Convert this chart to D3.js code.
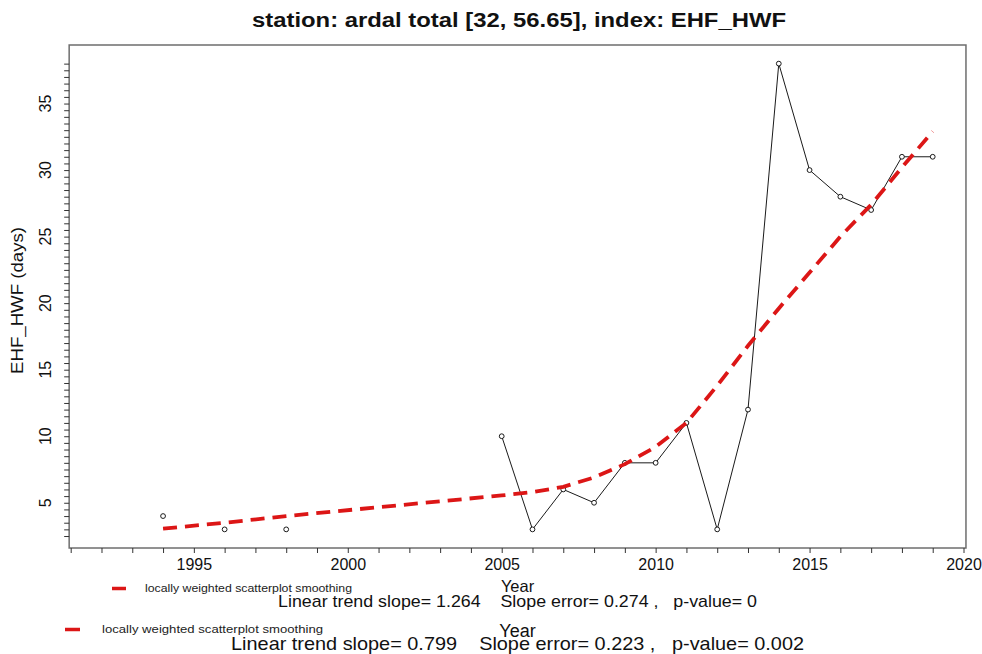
<!DOCTYPE html>
<html>
<head>
<meta charset="utf-8">
<script src="https://cdn.jsdelivr.net/npm/d3@7"></script>
<style>
  body { margin: 0; background: #fff; }
  svg text { font-family: "Liberation Sans", Arial, sans-serif; white-space: pre; }
</style>
</head>
<body>
<svg id="chart" width="982" height="654"></svg>
<script>
// observed series (null = year missing)
const years  = [1994, 1995, 1996, 1997, 1998, 1999, 2000, 2001, 2002, 2003, 2004,
                2005, 2006, 2007, 2008, 2009, 2010, 2011, 2012, 2013, 2014, 2015,
                2016, 2017, 2018, 2019];
const values = [4, null, 3, null, 3, null, null, null, null, null, null,
                10, 3, 6, 5, 8, 8, 11, 3, 12, 38, 30,
                28, 27, 31, 31];

// lowess fit, evaluated at the observed years
const loessYears  = [1994, 1996, 1998, 2005, 2006, 2007, 2008, 2009, 2010, 2011,
                     2012, 2013, 2014, 2015, 2016, 2017, 2018, 2019];
const loessValues = [3.05, 3.5, 4.0, 5.55, 5.8, 6.2, 6.9, 7.9, 9.2, 11.0,
                     13.8, 16.8, 19.6, 22.3, 25.0, 27.4, 30.2, 32.9];

const xTicks  = d3.range(1991, 2021);
const xLabels = [1995, 2000, 2005, 2010, 2015, 2020];
const yTicks  = d3.range(2.5, 38.01, 0.5);
const yLabels = [5, 10, 15, 20, 25, 30, 35];

const title = 'station: ardal total [32, 56.65], index: EHF_HWF';
const legendLabels = ['locally weighted scatterplot smoothing', 'locally weighted scatterplot smoothing'];
const trendLines = [
    'Linear trend slope= 1.264    Slope error= 0.274 ,   p-value= 0',
    'Linear trend slope= 0.799    Slope error= 0.223 ,   p-value= 0.002'
];

const red = '#dc1616';
const svg = d3.select('#chart');

const x = d3.scaleLinear().domain([1991, 2020]).range([70.7, 963.5]);
const y = d3.scaleLinear().domain([1.6, 39.4]).range([548, 45]);
const xMid = (x(1990.95) + x(2020.08)) / 2;

// plot frame
svg.append('rect')
    .attr('x', x(1990.95))
    .attr('y', y(39.4))
    .attr('width', x(2020.08) - x(1990.95))
    .attr('height', y(1.6) - y(39.4))
    .style('fill', 'none')
    .style('stroke', '#6e6e6e')
    .style('stroke-width', 1.5);

// x axis
const xAxis = svg.append('g')
    .attr('transform', `translate(0, ${y(1.6)})`)
    .call(d3.axisBottom(x)
        .tickValues(xTicks)
        .tickSize(5)
        .tickPadding(6)
        .tickFormat(d => xLabels.includes(d) ? d : ''));
xAxis.select('.domain').remove();
xAxis.selectAll('line').style('stroke', '#333');
xAxis.selectAll('text')
    .style('font-size', '16px')
    .style('fill', '#111');

// y axis
const yAxis = svg.append('g')
    .attr('transform', `translate(${x(1990.95)}, 0)`)
    .call(d3.axisLeft(y)
        .tickValues(yTicks)
        .tickSize(5)
        .tickFormat(''));
yAxis.select('.domain').remove();
yAxis.selectAll('line').style('stroke', '#333');

svg.append('g')
    .selectAll('text')
    .data(yLabels)
    .enter()
    .append('text')
        .attr('transform', d => `translate(51, ${y(d)}) rotate(-90)`)
        .attr('text-anchor', 'middle')
        .style('font-size', '16px')
        .style('fill', '#111')
        .text(d => d);

svg.append('text')
    .attr('transform', `translate(23, ${y(20.2)}) rotate(-90)`)
    .attr('text-anchor', 'middle')
    .attr('textLength', 147)
    .attr('lengthAdjust', 'spacingAndGlyphs')
    .style('font-size', '16px')
    .style('fill', '#111')
    .text('EHF_HWF (days)');

// title
svg.append('text')
    .attr('x', 519)
    .attr('y', 27)
    .attr('text-anchor', 'middle')
    .attr('textLength', 534)
    .attr('lengthAdjust', 'spacingAndGlyphs')
    .style('font-size', '19.5px')
    .style('font-weight', 'bold')
    .style('fill', '#111')
    .text(title);

// observed line + points
const pts = years.map((yr, i) => ({year: yr, value: values[i]}));

svg.append('path')
    .datum(pts)
    .attr('d', d3.line()
        .defined(d => d.value !== null)
        .x(d => x(d.year))
        .y(d => y(d.value)))
    .style('fill', 'none')
    .style('stroke', '#1a1a1a')
    .style('stroke-width', 1);

svg.append('g')
    .selectAll('circle')
    .data(pts.filter(d => d.value !== null))
    .enter()
    .append('circle')
        .attr('cx', d => x(d.year))
        .attr('cy', d => y(d.value))
        .attr('r', 2.4)
        .style('fill', '#fff')
        .style('stroke', '#1a1a1a')
        .style('stroke-width', 1);

// lowess curve
svg.append('path')
    .datum(loessYears.map((yr, i) => ({year: yr, value: loessValues[i]})))
    .attr('d', d3.line()
        .x(d => x(d.year))
        .y(d => y(d.value)))
    .style('fill', 'none')
    .style('stroke', red)
    .style('stroke-width', 3.8)
    .style('stroke-dasharray', '14 8');

// legend and x title rows (two stacked panels)
const rowPos = [
    {dash: [112, 126, 588.5], lab: [145, 592, 10.5, 207], year: [592, 16.5], trend: [607, 17, 479]},
    {dash: [65, 80, 629.5],  lab: [102, 633, 11.2, 221], year: [637, 18], trend: [650, 18.5, 573]}
];

rowPos.forEach((p, i) => {
    const g = svg.append('g');
    g.append('line')
        .attr('x1', p.dash[0]).attr('x2', p.dash[1])
        .attr('y1', p.dash[2]).attr('y2', p.dash[2])
        .style('stroke', red)
        .style('stroke-width', 3.5);
    g.append('text')
        .attr('x', p.lab[0]).attr('y', p.lab[1])
        .attr('textLength', p.lab[3])
        .attr('lengthAdjust', 'spacingAndGlyphs')
        .style('font-size', p.lab[2] + 'px')
        .style('fill', '#222')
        .text(legendLabels[i]);
    g.append('text')
        .attr('x', xMid).attr('y', p.year[0])
        .attr('text-anchor', 'middle')
        .style('font-size', p.year[1] + 'px')
        .style('fill', '#111')
        .text('Year');
    g.append('text')
        .attr('x', xMid).attr('y', p.trend[0])
        .attr('text-anchor', 'middle')
        .attr('textLength', p.trend[2])
        .attr('lengthAdjust', 'spacingAndGlyphs')
        .style('font-size', p.trend[1] + 'px')
        .style('fill', '#111')
        .text(trendLines[i]);
});
</script>
</body>
</html>
